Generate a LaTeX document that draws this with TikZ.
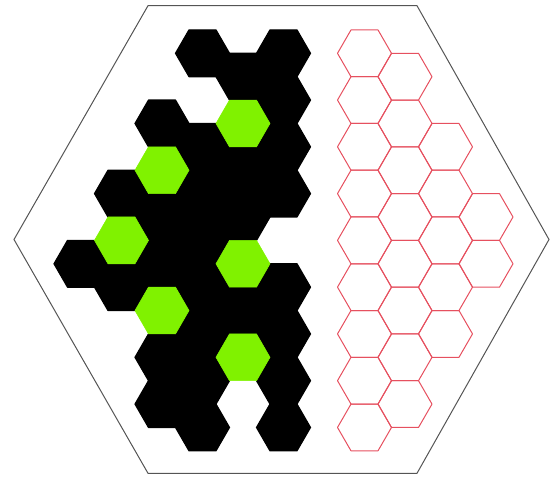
\documentclass[tikz,border=0pt]{standalone}
\usepackage{tikz}
\usetikzlibrary{calc}

\definecolor{cellgreen}{RGB}{128,242,0}
\definecolor{cellred}{RGB}{230,80,95}
\definecolor{frame}{RGB}{85,85,85}

\tikzset{
  blackcell/.style={fill=black, draw=black, line width=1.2pt, line join=round},
  greencell/.style={fill=cellgreen, draw=cellgreen, line width=0.6pt},
  redcell/.style={draw=cellred, line width=1pt, line join=round},
}

% flat-top hexagon in column #2, row #3 of the grid
\newcommand{\hexcell}[3]{%
  \pgfmathsetmacro{\hx}{81+40.5*#2}
  \pgfmathsetmacro{\hy}{(mod(#2,2)==1 ? 53.3 : 76.7)+46.77*#3}
  \path[#1] (\hx-27,\hy) -- ++(13.5,-23.38) -- ++(27,0) -- ++(13.5,23.38)
    -- ++(-13.5,23.38) -- ++(-27,0) -- cycle;
}

\begin{document}
\begin{tikzpicture}[x=1pt,y=-1pt]

    \useasboundingbox (0,0) rectangle (550,478);

    % outer frame
    \draw[frame, line width=1pt] (14,239.5) -- (148,5.7) -- (417,5.7)
      -- (549,239.5) -- (417,473.3) -- (148,473.3) -- cycle;

    % black cells
    \foreach \c/\k in {0/4, 1/3, 1/5, 2/1, 2/3, 2/4, 2/6, 2/7,
                       3/0, 3/2, 3/3, 3/4, 3/5, 3/6, 3/7, 3/8,
                       4/0, 4/2, 4/3, 4/5,
                       5/0, 5/1, 5/2, 5/3, 5/5, 5/6, 5/7, 5/8}
      {\hexcell{blackcell}{\c}{\k}}

    % green cells
    \foreach \c/\k in {1/4, 2/2, 2/5, 4/1, 4/4, 4/6}
      {\hexcell{greencell}{\c}{\k}}

    % red cells
    \foreach \k in {0,...,8} {\hexcell{redcell}{7}{\k}}
    \foreach \k in {0,...,7} {\hexcell{redcell}{8}{\k}}
    \foreach \k in {2,...,6} {\hexcell{redcell}{9}{\k}}
    \foreach \k in {3,4} {\hexcell{redcell}{10}{\k}}

\end{tikzpicture}
\end{document}
